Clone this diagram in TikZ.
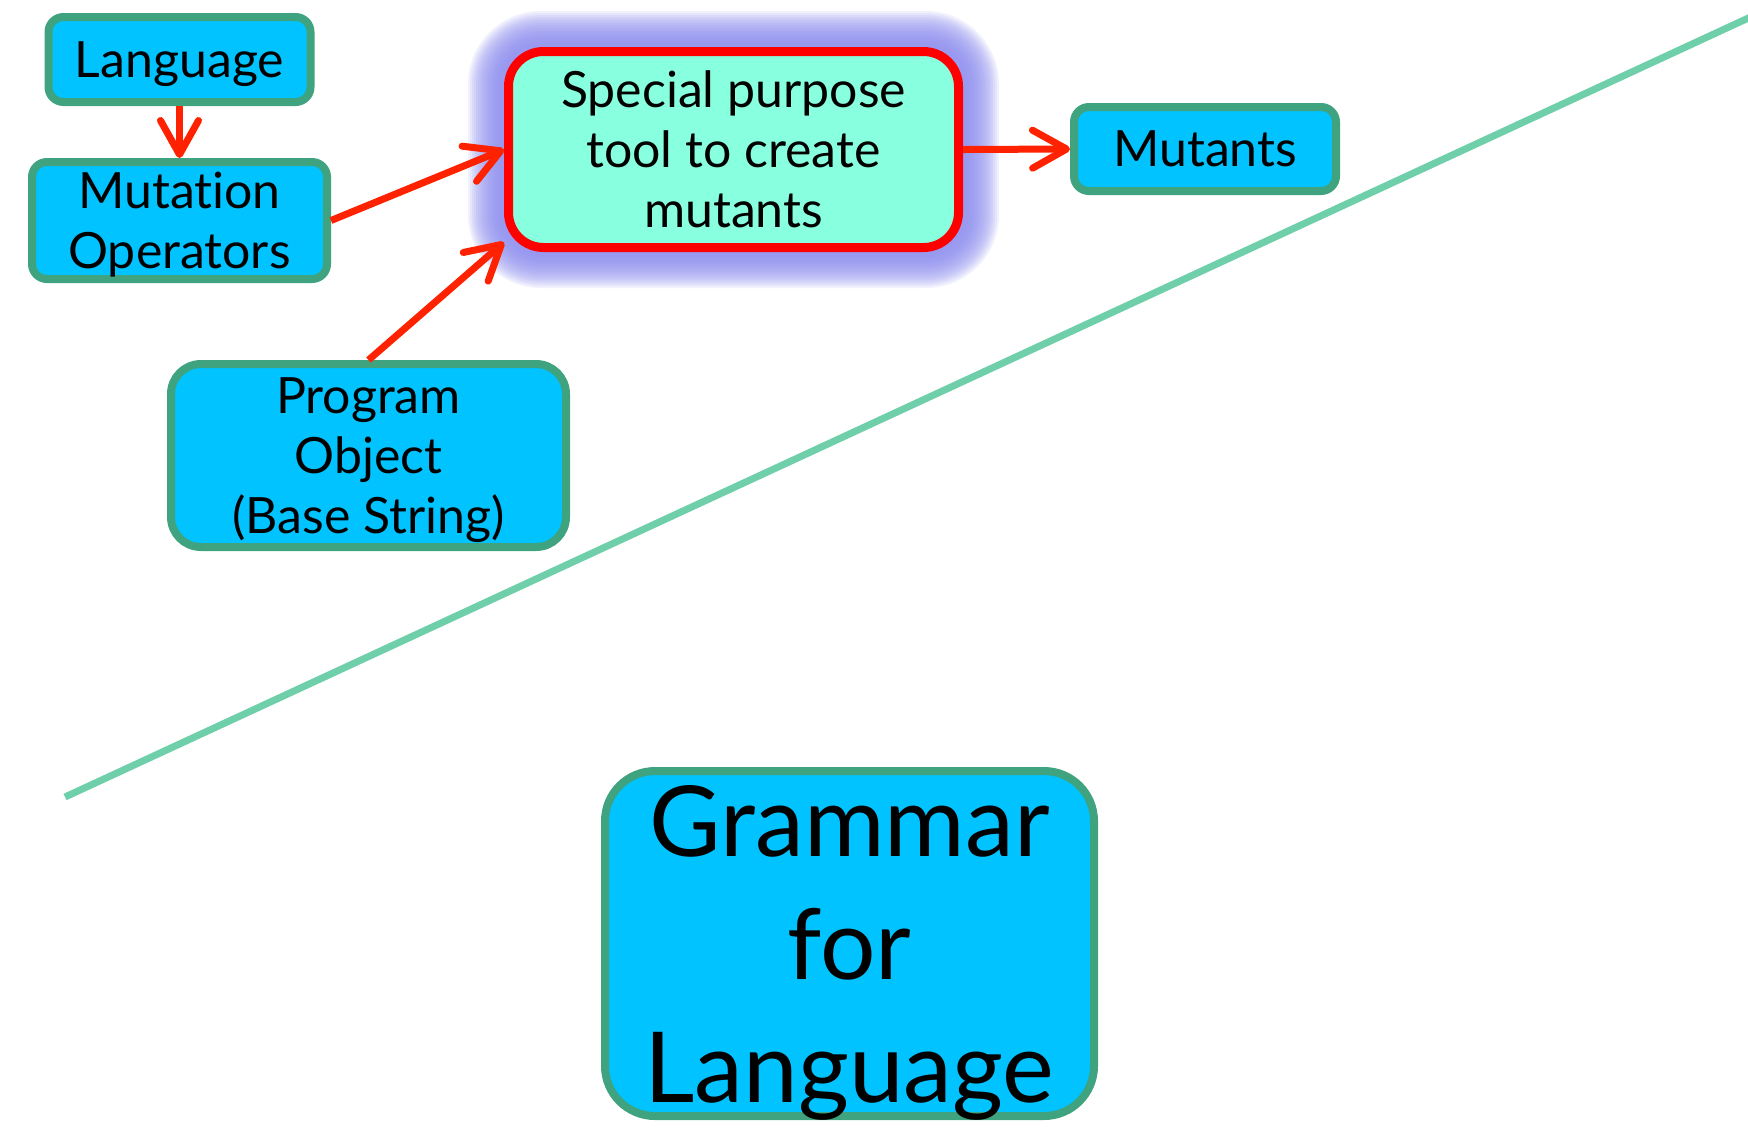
\documentclass[tikz,border=0pt]{standalone}
\usepackage{fontspec}
\setmainfont{Lato}[Ligatures=NoCommon]
\usetikzlibrary{arrows.meta,backgrounds,calc}
\definecolor{boxfill}{RGB}{0,195,255}
\definecolor{boxedge}{RGB}{62,163,126}
\definecolor{toolfill}{RGB}{136,255,222}
\definecolor{tooledge}{RGB}{255,0,0}
\definecolor{halo}{RGB}{140,140,238}
\definecolor{flow}{RGB}{255,34,0}
\definecolor{divider}{RGB}{111,207,170}
\begin{document}
\begin{tikzpicture}[x=0.5pt,y=-0.5pt,
  box/.style={draw=boxedge, fill=boxfill, line width=4pt, rounded corners=7.5pt,
    align=center, inner sep=0pt, text depth=0pt,
    font=\fontsize{25}{30}\selectfont},
  toolbox/.style={box, draw=tooledge, fill=toolfill, line width=4.5pt, rounded corners=17.5pt},
  bigbox/.style={box, rounded corners=25pt, font=\fontsize{49}{61.5}\selectfont},
  flowarrow/.style={draw=flow, line width=3.5pt,
    -{Straight Barb[length=17pt,width=19pt,round]}},
  divline/.style={draw=divider, line width=3.5pt}
]
\clip (0,0) rectangle (1748,1131);

% diagonal separator
\path[divline] (65,797) -- (1770,8);

% boxes
\node[box, minimum width=131pt, minimum height=42.5pt] (lang) at (179.5,59.5) {Language};
\node[box, minimum width=147.5pt, minimum height=58.5pt] (mutop) at (179.5,220.5) {Mutation\\Operators};
\node[toolbox, minimum width=225pt, minimum height=98pt] (tool) at (733.5,149.5) {Special purpose\\tool to create\\mutants};
\node[box, minimum width=131pt, minimum height=42pt] (mutants) at (1205,149) {Mutants};
\node[box, rounded corners=15pt, minimum width=197.5pt, minimum height=91.5pt] (prog) at (368.5,455.5) {Program\\Object\\(Base String)};
\node[bigbox, minimum width=244.5pt, minimum height=172.5pt] (gram) at (849.5,943.5) {Grammar\\for\\Language};

% soft halo behind the tool box
\begin{scope}[on background layer]
  \foreach \d [evaluate=\d as \r using 19.5+0.5*\d] in {2,4,...,34} {
    \fill[halo, opacity=0.12, rounded corners=\r pt]
      ($(tool.north west)+(-\d-2,-\d-2)$) rectangle ($(tool.south east)+(\d+2,\d+2)$);
  }
\end{scope}

% connectors
\draw[flowarrow] (lang) -- (mutop);
\draw[flowarrow] (mutop.east) -- (tool.west);
\draw[flowarrow] (prog.north) -- (tool.202);
\draw[flowarrow] (tool.east) -- (mutants.west);
\end{tikzpicture}
\end{document}
